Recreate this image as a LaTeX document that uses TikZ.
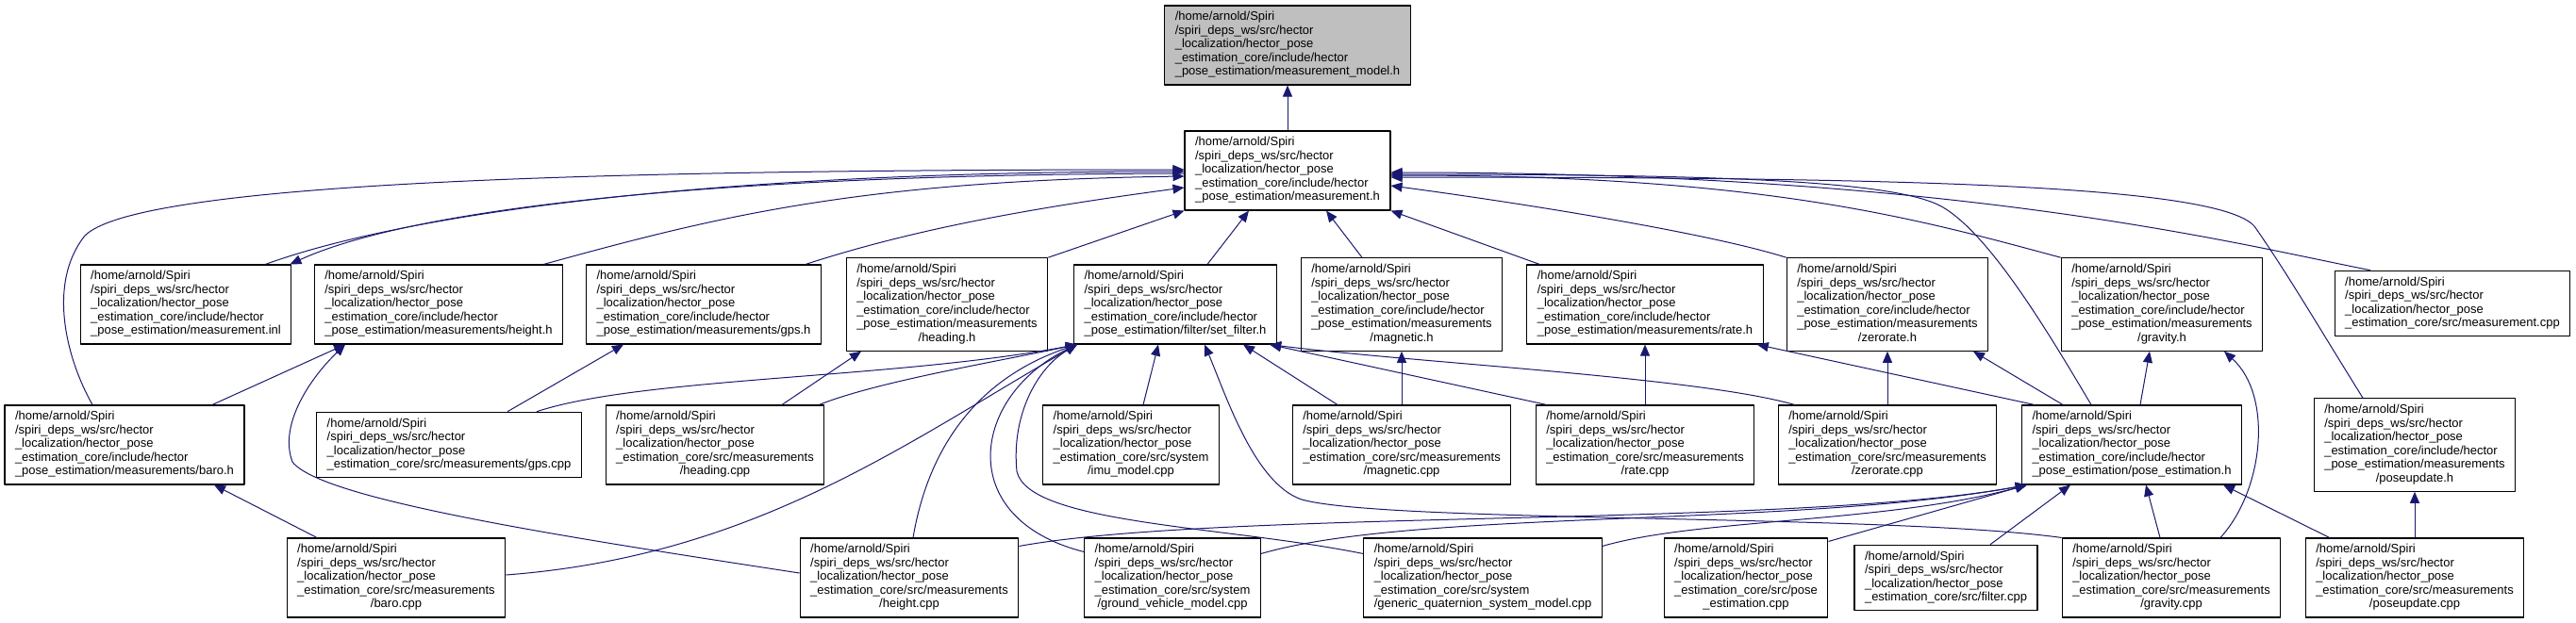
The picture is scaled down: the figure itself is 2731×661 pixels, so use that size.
\documentclass[tikz,border=0pt]{standalone}
\usepackage{fontspec}
\setmainfont{Liberation Sans}
\usetikzlibrary{arrows.meta}
\definecolor{edgeblue}{HTML}{191970}
\definecolor{curfill}{HTML}{BFBFBF}
\newcommand{\flines}[2]{\begin{tabular}{@{}l@{}}#1\\\multicolumn{1}{@{}c@{}}{#2}\end{tabular}}
\newcommand{\pfx}{/home/arnold/Spiri\\/spiri\_deps\_ws/src/hector\\\_localization/hector\_pose}
\newcommand{\pinc}{\_estimation\_core/include/hector}
\newcommand{\psrc}{\_estimation\_core/src/measurements}
\newcommand{\psys}{\_estimation\_core/src/system}
\begin{document}
\begin{tikzpicture}[x=1pt,y=-1pt,line join=round,
  file/.style={draw=black,line width=1.2pt,fill=white,inner xsep=11pt,inner ysep=5.7pt,font=\fontsize{13}{14.5}\selectfont},
  cur/.style={file,fill=curfill},
  inc/.style={draw=edgeblue,line width=1pt,-{Triangle[length=12pt,width=10pt]}}]
\useasboundingbox (0,0) rectangle (2731,661);
% the header itself and measurement.h
\node[cur] (model) at (1365,48) {\flines{\pfx\\\pinc}{\_pose\_estimation/measurement\_model.h}};
\node[file] (meas) at (1365,181) {\flines{\pfx\\\pinc}{\_pose\_estimation/measurement.h}};
% second row
\node[file] (inl) at (197,323) {\flines{\pfx\\\pinc}{\_pose\_estimation/measurement.inl}};
\node[file] (heighth) at (465,323) {\flines{\pfx\\\pinc}{\_pose\_estimation/measurements/height.h}};
\node[file] (gpsh) at (746,323) {\flines{\pfx\\\pinc}{\_pose\_estimation/measurements/gps.h}};
\node[file] (headingh) at (1004,323) {\flines{\pfx\\\pinc\\\_pose\_estimation/measurements}{/heading.h}};
\node[file] (setfilter) at (1246,323) {\flines{\pfx\\\pinc}{\_pose\_estimation/filter/set\_filter.h}};
\node[file] (magh) at (1486,323) {\flines{\pfx\\\pinc\\\_pose\_estimation/measurements}{/magnetic.h}};
\node[file] (rateh) at (1744,323) {\flines{\pfx\\\pinc}{\_pose\_estimation/measurements/rate.h}};
\node[file] (zeroh) at (2001,323) {\flines{\pfx\\\pinc\\\_pose\_estimation/measurements}{/zerorate.h}};
\node[file] (gravh) at (2292,323) {\flines{\pfx\\\pinc\\\_pose\_estimation/measurements}{/gravity.h}};
\node[file] (meascpp) at (2600,322) {\flines{\pfx}{\_estimation\_core/src/measurement.cpp}};
% third row
\node[file] (baroh) at (132,472) {\flines{\pfx\\\pinc}{\_pose\_estimation/measurements/baro.h}};
\node[file] (gpscpp) at (476,472) {\flines{\pfx}{\_estimation\_core/src/measurements/gps.cpp}};
\node[file] (headingcpp) at (758,472) {\flines{\pfx\\\psrc}{/heading.cpp}};
\node[file] (imu) at (1199,472) {\flines{\pfx\\\psys}{/imu\_model.cpp}};
\node[file] (magcpp) at (1486,472) {\flines{\pfx\\\psrc}{/magnetic.cpp}};
\node[file] (ratecpp) at (1744,472) {\flines{\pfx\\\psrc}{/rate.cpp}};
\node[file] (zerocpp) at (2001,472) {\flines{\pfx\\\psrc}{/zerorate.cpp}};
\node[file] (poseh) at (2260,472) {\flines{\pfx\\\pinc}{\_pose\_estimation/pose\_estimation.h}};
\node[file] (poseupdh) at (2560,472) {\flines{\pfx\\\pinc\\\_pose\_estimation/measurements}{/poseupdate.h}};
% bottom row
\node[file] (barocpp) at (420,613) {\flines{\pfx\\\psrc}{/baro.cpp}};
\node[file] (heightcpp) at (964,613) {\flines{\pfx\\\psrc}{/height.cpp}};
\node[file] (ground) at (1243,613) {\flines{\pfx\\\psys}{/ground\_vehicle\_model.cpp}};
\node[file] (generic) at (1572,613) {\flines{\pfx\\\psys}{/generic\_quaternion\_system\_model.cpp}};
\node[file] (posecpp) at (1851,613) {\flines{\pfx\\\_estimation\_core/src/pose}{\_estimation.cpp}};
\node[file] (filtercpp) at (2063,613) {\flines{\pfx}{\_estimation\_core/src/filter.cpp}};
\node[file] (gravcpp) at (2302,613) {\flines{\pfx\\\psrc}{/gravity.cpp}};
\node[file] (poseupdcpp) at (2560,613) {\flines{\pfx\\\psrc}{/poseupdate.cpp}};
% into measurement_model.h and measurement.h
\draw[inc] (meas.north) -- (model.south);
\draw[inc] ([xshift=-28pt]inl.north east) .. controls (431,226) and (756,182) .. ([yshift=-1pt]meas.west);
\draw[inc] ([yshift=-3pt]meas.west) .. controls (756,185) and (437,221) .. ([xshift=-2pt]inl.north east);
\draw[inc] ([xshift=-34pt]baroh.north) .. controls (70,380) and (50,300) .. (90,250) .. controls (150,190) and (700,180) .. ([yshift=1pt]meas.west);
\draw[inc] ([xshift=-21pt]heighth.north east) .. controls (756,231) and (906,192) .. ([yshift=-6pt]meas.west);
\draw[inc] ([xshift=-17pt]gpsh.north east) .. controls (975,241) and (1106,219) .. ([yshift=-18pt]meas.west);
\draw[inc] (headingh.north east) -- (meas.south west);
\draw[inc] ([xshift=34pt]setfilter.north) -- ([xshift=-41pt]meas.south);
\draw[inc] ([xshift=-42pt]magh.north) -- ([xshift=41pt]meas.south);
\draw[inc] ([xshift=14pt]rateh.north west) -- (meas.south east);
\draw[inc] (zeroh.north west) .. controls (1814,248) and (1624,217) .. ([yshift=-16pt]meas.east);
\draw[inc] (gravh.north west) .. controls (2035,233) and (1874,186) .. ([yshift=-5pt]meas.east);
\draw[inc] ([xshift=-87pt]meascpp.north) .. controls (2363,257) and (2074,183) .. ([yshift=-2pt]meas.east);
\draw[inc] ([xshift=-43pt]poseh.north) .. controls (2170,350) and (2110,250) .. (2060,220) .. controls (2010,190) and (1800,185) .. ([yshift=-4pt]meas.east);
\draw[inc] ([xshift=-55pt]poseupdh.north) .. controls (2460,350) and (2425,290) .. (2390,240) .. controls (2350,195) and (2000,188) .. ([yshift=-7pt]meas.east);
% headers of the measurements
\draw[inc] ([xshift=93pt]baroh.north) -- ([xshift=-99pt]heighth.south);
\draw[inc] ([xshift=62pt]gpscpp.north) -- ([xshift=-85pt]gpsh.south);
\draw[inc] ([xshift=71pt]headingcpp.north) -- ([xshift=-91pt]headingh.south);
\draw[inc] (magcpp.north) -- (magh.south);
\draw[inc] (ratecpp.north) -- (rateh.south);
\draw[inc] (zerocpp.north) -- (zeroh.south);
\draw[inc] ([xshift=14pt]poseh.north west) -- ([xshift=-7pt]rateh.south east);
\draw[inc] ([xshift=-73pt]poseh.north) -- ([xshift=91pt]zeroh.south);
\draw[inc] ([xshift=9pt]poseh.north) -- ([xshift=-13pt]gravh.south);
\draw[inc] (poseupdcpp.north) -- (poseupdh.south);
\draw[inc] ([xshift=-84pt]barocpp.north) -- ([xshift=95pt]baroh.south);
\draw[inc] ([yshift=5pt]heightcpp.west) .. controls (600,570) and (340,530) .. (310,490) .. controls (295,450) and (330,400) .. ([xshift=-99pt]heighth.south);
\draw[inc] ([xshift=52pt]gravcpp.north) .. controls (2400,520) and (2410,420) .. ([xshift=66pt]gravh.south);
% into set_filter.h
\draw[inc] ([xshift=93pt]gpscpp.north) .. controls (680,400) and (950,402) .. ([xshift=4pt]setfilter.south west);
\draw[inc] ([xshift=-6pt]headingcpp.north east) .. controls (930,405) and (1050,385) .. ([xshift=4pt]setfilter.south west);
\draw[inc] ([yshift=3pt]barocpp.east) .. controls (800,590) and (960,470) .. ([xshift=4pt]setfilter.south west);
\draw[inc] ([xshift=4pt]heightcpp.north) .. controls (985,470) and (1040,400) .. ([xshift=4pt]setfilter.south west);
\draw[inc] ([yshift=-15pt]ground.north west) .. controls (1010,550) and (1030,420) .. ([xshift=4pt]setfilter.south west);
\draw[inc] ([yshift=-17pt]generic.north west) .. controls (1300,558) and (1090,556) .. (1078,500) .. controls (1072,440) and (1100,390) .. ([xshift=4pt]setfilter.south west);
\draw[inc] ([xshift=13pt]imu.north) -- ([xshift=-18pt]setfilter.south);
\draw[inc] ([xshift=-68pt]magcpp.north) -- ([xshift=72pt]setfilter.south);
\draw[inc] ([xshift=12pt]ratecpp.north west) -- ([xshift=-8pt]setfilter.south east);
\draw[inc] ([xshift=18pt]zerocpp.north west) .. controls (1800,400) and (1500,385) .. ([xshift=-8pt]setfilter.south east);
\draw[inc] (gravcpp.north west) .. controls (2000,545) and (1470,555) .. (1380,530) .. controls (1330,513) and (1300,420) .. ([xshift=31pt]setfilter.south);
% into pose_estimation.h
\draw[inc] ([yshift=-9pt]heightcpp.north east) .. controls (1300,540) and (1900,560) .. ([xshift=6pt]poseh.south west);
\draw[inc] ([yshift=-17pt]ground.north east) .. controls (1500,540) and (1900,560) .. ([xshift=6pt]poseh.south west);
\draw[inc] ([yshift=-9pt]generic.north east) .. controls (1800,550) and (2000,555) .. ([xshift=6pt]poseh.south west);
\draw[inc] ([yshift=-4pt]posecpp.north east) -- ([xshift=6pt]poseh.south west);
\draw[inc] ([xshift=47pt]filtercpp.north) -- ([xshift=-65pt]poseh.south);
\draw[inc] ([xshift=-12pt]gravcpp.north) -- ([xshift=15pt]poseh.south);
\draw[inc] ([xshift=26pt]poseupdcpp.north west) -- ([xshift=97pt]poseh.south);
\end{tikzpicture}
\end{document}
